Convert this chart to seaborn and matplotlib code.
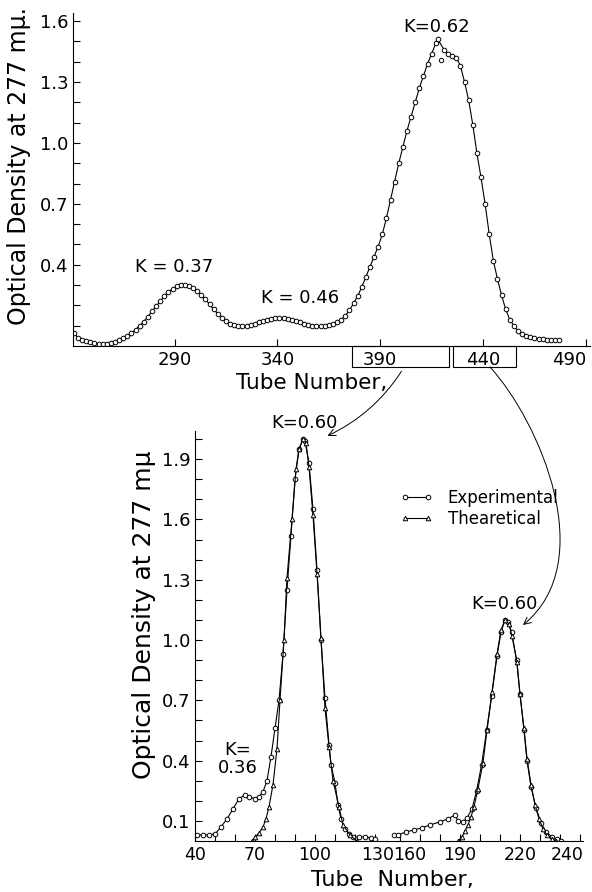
import numpy as np
import pandas as pd
import matplotlib
matplotlib.use('Agg')
import matplotlib.pyplot as plt
import matplotlib.transforms as mtransforms
from matplotlib.patches import Rectangle, FancyArrowPatch
from matplotlib.path import Path
import seaborn as sns

sns.set_style('ticks')
plt.rcParams['font.family'] = ['DejaVu Sans']
plt.rcParams['xtick.direction'] = 'in'
plt.rcParams['ytick.direction'] = 'in'
for key in ['text.color', 'axes.labelcolor', 'axes.edgecolor', 'xtick.color', 'ytick.color']:
    plt.rcParams[key] = 'black'

# upper run: experimental curve (tube number, optical density)
top_tube = [241, 243, 245, 247, 249, 251, 253, 255, 257, 259, 261, 263, 265, 267, 269,
            271, 273, 275, 277, 279, 281, 283, 285, 287, 289, 291, 293, 295, 297, 299,
            301, 303, 305, 307, 309, 311, 313, 315, 317, 319, 321, 323, 325, 327, 329,
            331, 333, 335, 337, 339, 341, 343, 345, 347, 349, 351, 353, 355, 357, 359,
            361, 363, 365, 367, 369, 371, 373, 375, 377, 379, 381, 383, 385, 387, 389,
            391, 393, 395, 397, 399, 401, 403, 405, 407, 409, 411, 413, 415, 417, 418,
            421, 423, 425, 427, 429, 431, 433, 435, 437, 439, 441, 443, 445, 447, 449,
            451, 453, 455, 457, 459, 461, 463, 465, 467, 469, 471, 473, 475, 477]
top_od = [0.065, 0.04, 0.03, 0.025, 0.02, 0.015, 0.01, 0.01, 0.012, 0.015, 0.02, 0.03, 0.04, 0.05, 0.065,
          0.08, 0.10, 0.12, 0.145, 0.17, 0.195, 0.22, 0.245, 0.265, 0.28, 0.295, 0.30, 0.30, 0.295, 0.285,
          0.27, 0.25, 0.23, 0.205, 0.18, 0.16, 0.14, 0.125, 0.11, 0.105, 0.10, 0.10, 0.10, 0.105, 0.11,
          0.12, 0.125, 0.13, 0.135, 0.14, 0.14, 0.14, 0.135, 0.13, 0.125, 0.12, 0.11, 0.105, 0.10, 0.10,
          0.10, 0.10, 0.105, 0.11, 0.12, 0.13, 0.15, 0.175, 0.21, 0.245, 0.29, 0.34, 0.39, 0.44, 0.49,
          0.55, 0.63, 0.72, 0.81, 0.90, 0.98, 1.06, 1.13, 1.20, 1.27, 1.33, 1.39, 1.44, 1.49, 1.51,
          1.46, 1.44, 1.43, 1.42, 1.38, 1.30, 1.21, 1.09, 0.95, 0.83, 0.70, 0.55, 0.42, 0.33, 0.25,
          0.18, 0.13, 0.10, 0.075, 0.06, 0.05, 0.045, 0.04, 0.035, 0.035, 0.03, 0.03, 0.03, 0.03]
top_outlier_tube = [419.5]
top_outlier_od = [1.41]

# lower runs
exp_left_tube = [41, 44, 47, 50, 53, 56, 59, 62, 65, 67, 70, 72, 74, 76, 78, 80, 82, 84, 86, 88,
                 90, 92, 94, 95, 97, 99, 101, 103, 105, 107, 108, 110, 111.5, 113, 115, 117, 119,
                 122, 125, 128, 130]
exp_left_od = [0.03, 0.03, 0.03, 0.035, 0.07, 0.11, 0.16, 0.21, 0.23, 0.22, 0.21, 0.22, 0.245, 0.30,
               0.42, 0.56, 0.70, 0.93, 1.25, 1.52, 1.80, 1.95, 2.00, 1.99, 1.88, 1.65, 1.35, 1.00,
               0.71, 0.48, 0.38, 0.29, 0.18, 0.11, 0.06, 0.035, 0.02, 0.02, 0.02, 0.015, 0.01]
theo_left_tube = [68.5, 70, 72, 74, 75.5, 77, 79, 81, 82.5, 84.5, 86, 88.5, 90.5, 92, 94, 95.5, 97,
                  99, 101, 103, 105, 107, 109, 112, 114, 117.5, 121]
theo_left_od = [0.0, 0.02, 0.04, 0.07, 0.11, 0.17, 0.28, 0.46, 0.70, 1.00, 1.31, 1.60, 1.85, 1.95,
                2.00, 1.98, 1.86, 1.62, 1.33, 1.01, 0.66, 0.47, 0.30, 0.17, 0.08, 0.03, 0.0]
exp_right_tube = [157, 159, 163, 167, 171, 175, 180, 184, 187.5, 189, 191.5, 193.5, 196, 198.3,
                  200.8, 203.3, 205.8, 208.5, 210.5, 212.5, 214, 215.8, 218.3, 220, 222, 223.5,
                  225.5, 228, 230.5, 233, 236, 238.5, 240.5]
exp_right_od = [0.03, 0.03, 0.045, 0.055, 0.066, 0.08, 0.095, 0.11, 0.13, 0.10, 0.095, 0.115, 0.16,
                0.25, 0.38, 0.55, 0.72, 0.92, 1.04, 1.10, 1.09, 1.04, 0.90, 0.73, 0.55, 0.40, 0.27,
                0.165, 0.09, 0.045, 0.02, 0.008, 0.0]
theo_right_tube = [189, 191, 192.5, 194, 195.5, 197, 199, 201.5, 203.5, 206, 208.5, 210.5, 212.5,
                   214.5, 216, 218.5, 220, 222, 223.5, 225.5, 227.5, 229.5, 231.5, 233.5, 236, 238]
theo_right_od = [0.0, 0.02, 0.05, 0.08, 0.12, 0.17, 0.26, 0.39, 0.55, 0.74, 0.93, 1.05, 1.10, 1.08,
                 1.02, 0.89, 0.73, 0.56, 0.41, 0.28, 0.18, 0.11, 0.06, 0.03, 0.01, 0.0]

top_xticks = [290, 340, 390, 440, 490]
top_yticks = [0.4, 0.7, 1.0, 1.3, 1.6]
bot_yticks = [0.1, 0.4, 0.7, 1.0, 1.3, 1.6, 1.9]
left_xticks = [40, 70, 100, 130]
right_xticks = [160, 190, 220, 240]

W, H = 592, 892
fig = plt.figure(figsize=(W / 100, H / 100), dpi=100)
ax_top = fig.add_axes([73 / W, 1 - 346 / H, 517 / W, 333 / H])
ax_bl = fig.add_axes([195 / W, 51 / H, 187.5 / W, 410 / H])
ax_br = fig.add_axes([382.5 / W, 51 / H, 200.5 / W, 410 / H], sharey=ax_bl)

line_kw = dict(color='black', lw=0.8, markersize=3.3, markerfacecolor='white',
               markeredgecolor='black', markeredgewidth=0.7, estimator=None)

# top panel
sns.lineplot(x=top_tube, y=top_od, marker='o', ax=ax_top, **line_kw)
sns.scatterplot(x=top_outlier_tube, y=top_outlier_od, marker='o', s=10, facecolor='white',
                edgecolor='black', linewidth=0.7, ax=ax_top)
ax_top.set_xlim(240.6, 492)
ax_top.set_ylim(0, 1.64)
ax_top.set_xticks(top_xticks)
ax_top.set_yticks(top_yticks)
ax_top.set_yticks(np.arange(0.1, 1.65, 0.1), minor=True)
ax_top.tick_params(which='both', length=5, width=0.8, labelsize=13)
ax_top.get_xticklabels()[-1].set_ha('right')
ax_top.set_ylabel('Optical Density at 277 mμ.', fontsize=17)
ax_top.yaxis.set_label_coords(-0.082, 0.54)
ax_top.set_xlabel('Tube Number,', fontsize=15.5)
ax_top.xaxis.set_label_coords(0.462, -0.082)
ax_top.text(290, 0.39, 'K = 0.37', fontsize=13, ha='center', va='center')
ax_top.text(351, 0.235, 'K = 0.46', fontsize=13, ha='center', va='center')
ax_top.text(417.5, 1.57, 'K=0.62', fontsize=13, ha='center', va='center')

# boxes round the 390 / 440 labels
blend = mtransforms.blended_transform_factory(ax_top.transData, ax_top.transAxes)
for x0, x1 in [(376.2, 423.5), (425.4, 455.9)]:
    ax_top.add_patch(Rectangle((x0, -0.063), x1 - x0, 0.063, transform=blend, fill=False,
                               lw=0.8, edgecolor='black', clip_on=False))

# bottom panels
for ax, ex, ey, tx, ty in [(ax_bl, exp_left_tube, exp_left_od, theo_left_tube, theo_left_od),
                           (ax_br, exp_right_tube, exp_right_od, theo_right_tube, theo_right_od)]:
    sns.lineplot(x=ex, y=ey, marker='o', ax=ax, label='Experimental', **line_kw)
    sns.lineplot(x=tx, y=ty, marker='^', ax=ax, label='Thearetical', **line_kw)

handles, labels = ax_bl.get_legend_handles_labels()
ax_bl.get_legend().remove()
ax_br.get_legend().remove()

ax_bl.set_xlim(40, 133.75)
ax_br.set_xlim(151.25, 251.5)
ax_bl.set_ylim(0, 2.04)
ax_bl.set_xticks(left_xticks)
ax_bl.set_xticks(np.arange(50, 131, 10), minor=True)
ax_br.set_xticks(right_xticks)
ax_br.set_xticks(np.arange(160, 251, 10), minor=True)
ax_bl.set_yticks(bot_yticks)
ax_bl.set_yticks(np.arange(0.1, 2.05, 0.1), minor=True)
for ax in (ax_bl, ax_br):
    ax.tick_params(which='both', length=5, width=0.8, labelsize=13)
    ax.tick_params(axis='x', labelsize=12.5)
ax_br.tick_params(axis='y', which='both', left=False, labelleft=False)
ax_br.set_ylabel('')
ax_bl.set_ylabel('Optical Density at 277 mμ', fontsize=18)
ax_bl.yaxis.set_label_coords(-0.21, 0.553)

# the hand-lettered 130 / 160 / 240 sit a little right of their ticks
fig.canvas.draw()
for lab, dx in [(ax_bl.get_xticklabels()[-1], 3), (ax_br.get_xticklabels()[0], 10),
                (ax_br.get_xticklabels()[-1], 7)]:
    lab.set_transform(lab.get_transform() + mtransforms.ScaledTranslation(dx / 100, 0, fig.dpi_scale_trans))

sns.despine(ax=ax_top)
sns.despine(ax=ax_bl)
sns.despine(ax=ax_br, left=True)

fig.text(392 / W, 1 - 880 / H, 'Tube  Number,', fontsize=16, ha='center', va='center')

ax_bl.text(94.5, 2.08, 'K=0.60', fontsize=13, ha='center', va='center')
ax_br.text(212, 1.18, 'K=0.60', fontsize=13, ha='center', va='center')
ax_bl.text(61.5, 0.41, 'K=\n0.36', fontsize=13, ha='center', va='center', linespacing=1.0)

fig.legend(handles, labels, loc='upper left', bbox_to_anchor=(400 / W, 1 - 489 / H),
           frameon=False, fontsize=12, handlelength=2.0, handletextpad=0.85,
           labelspacing=0.15, borderpad=0, borderaxespad=0, numpoints=2)

# curved arrows from the boxed regions down to the peaks (figure pixels)
px = mtransforms.Affine2D().scale(1 / W, 1 / H) + fig.transFigure
arrow1 = FancyArrowPatch((403, 523), (325, 455), connectionstyle='arc3,rad=-0.15',
                         arrowstyle='->,head_length=5,head_width=2.5', lw=0.7,
                         color='black', transform=px)
path2 = Path([(490, 525), (540, 470), (600, 330), (523, 267)],
             [Path.MOVETO, Path.CURVE4, Path.CURVE4, Path.CURVE4])
arrow2 = FancyArrowPatch(path=path2, arrowstyle='->,head_length=5,head_width=2.5', lw=0.7,
                         color='black', transform=px)
fig.patches.extend([arrow1, arrow2])

fig.savefig('out.png', dpi=100)
